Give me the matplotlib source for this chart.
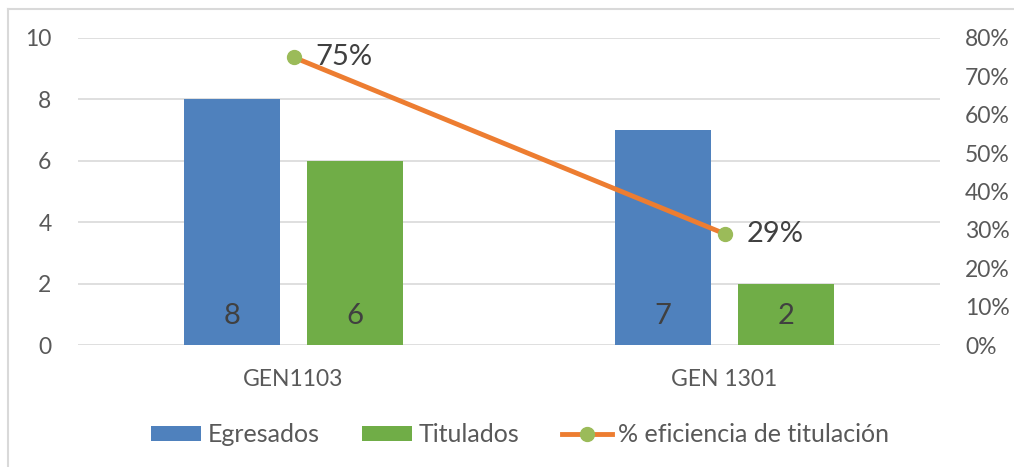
import matplotlib
matplotlib.use("Agg")
import matplotlib.pyplot as plt
import numpy as np
from matplotlib.lines import Line2D
from matplotlib.ticker import PercentFormatter

categories = ["GEN1103", "GEN 1301"]
egresados = [8, 7]
titulados = [6, 2]
eficiencia = [0.75, 0.29]

plt.rcParams['font.family'] = ['Lato', 'DejaVu Sans']
txt = '#595959'

fig = plt.figure(figsize=(10.14, 4.67), dpi=100)
ax = fig.add_axes([78/1014, 1-345/467, (940-78)/1014, (345-38)/467])
ax2 = ax.twinx()

x = np.arange(len(categories))
w = 0.223
off = 0.143
b1 = ax.bar(x - off, egresados, w, color='#4F81BD', label='Egresados', zorder=2)
b2 = ax.bar(x + off, titulados, w, color='#70AD47', label='Titulados', zorder=2)
for bars, vals in ((b1, egresados), (b2, titulados)):
    for r, v in zip(bars, vals):
        ax.text(r.get_x() + r.get_width()/2, 0.95, str(v), ha='center', va='center',
                fontsize=21, color='#404040', zorder=3)

ax.set_xlim(-0.5, 1.5)
ax.set_ylim(0, 10)
ax.set_yticks([0, 2, 4, 6, 8, 10])
ax.grid(axis='y', color='#D9D9D9', linewidth=1.2, zorder=0)
ax.set_axisbelow(True)
for s in ax.spines.values():
    s.set_visible(False)
for s in ax2.spines.values():
    s.set_visible(False)
ax.tick_params(axis='both', length=0, labelsize=16.5, colors=txt)
ax.tick_params(axis='x', pad=17)
ax.tick_params(axis='y', pad=19)
ax.set_xticks(x)
ax.set_xticklabels(categories)

ax2.set_ylim(0, 0.8)
ax2.set_yticks(np.arange(0, 0.81, 0.1))
ax2.yaxis.set_major_formatter(PercentFormatter(1.0, decimals=0))
ax2.tick_params(axis='y', length=0, labelsize=16.5, colors=txt, pad=18)
ln, = ax2.plot(x, eficiencia, color='#ED7D31', linewidth=3.5, marker='o',
               markersize=10, markerfacecolor='#9BBB59', markeredgecolor='#9BBB59',
               label='% eficiencia de titulación', zorder=5)
for xi, v in zip(x, eficiencia):
    ax2.annotate(f"{round(v*100)}%", (xi, v), xytext=(16, 0), textcoords='offset points',
                 ha='left', va='center', fontsize=21, color='#404040')

handles = [b1, b2, ln]
leg = fig.legend(handles, [h.get_label() for h in handles], loc='center',
                 bbox_to_anchor=(520/1014, 1-435/467), ncol=3, frameon=False,
                 fontsize=18, handlelength=2.0, handleheight=0.55, handletextpad=0.25,
                 columnspacing=1.7)
for t in leg.get_texts():
    t.set_color(txt)

fig.add_artist(Line2D([7.5/1014, 7.5/1014], [1-466/467, 1-9/467], color='#D9D9D9', linewidth=1.5))
fig.add_artist(Line2D([7.5/1014, 1.0], [1-9/467, 1-9/467], color='#D9D9D9', linewidth=1.5))

fig.savefig('out.png', dpi=100)
